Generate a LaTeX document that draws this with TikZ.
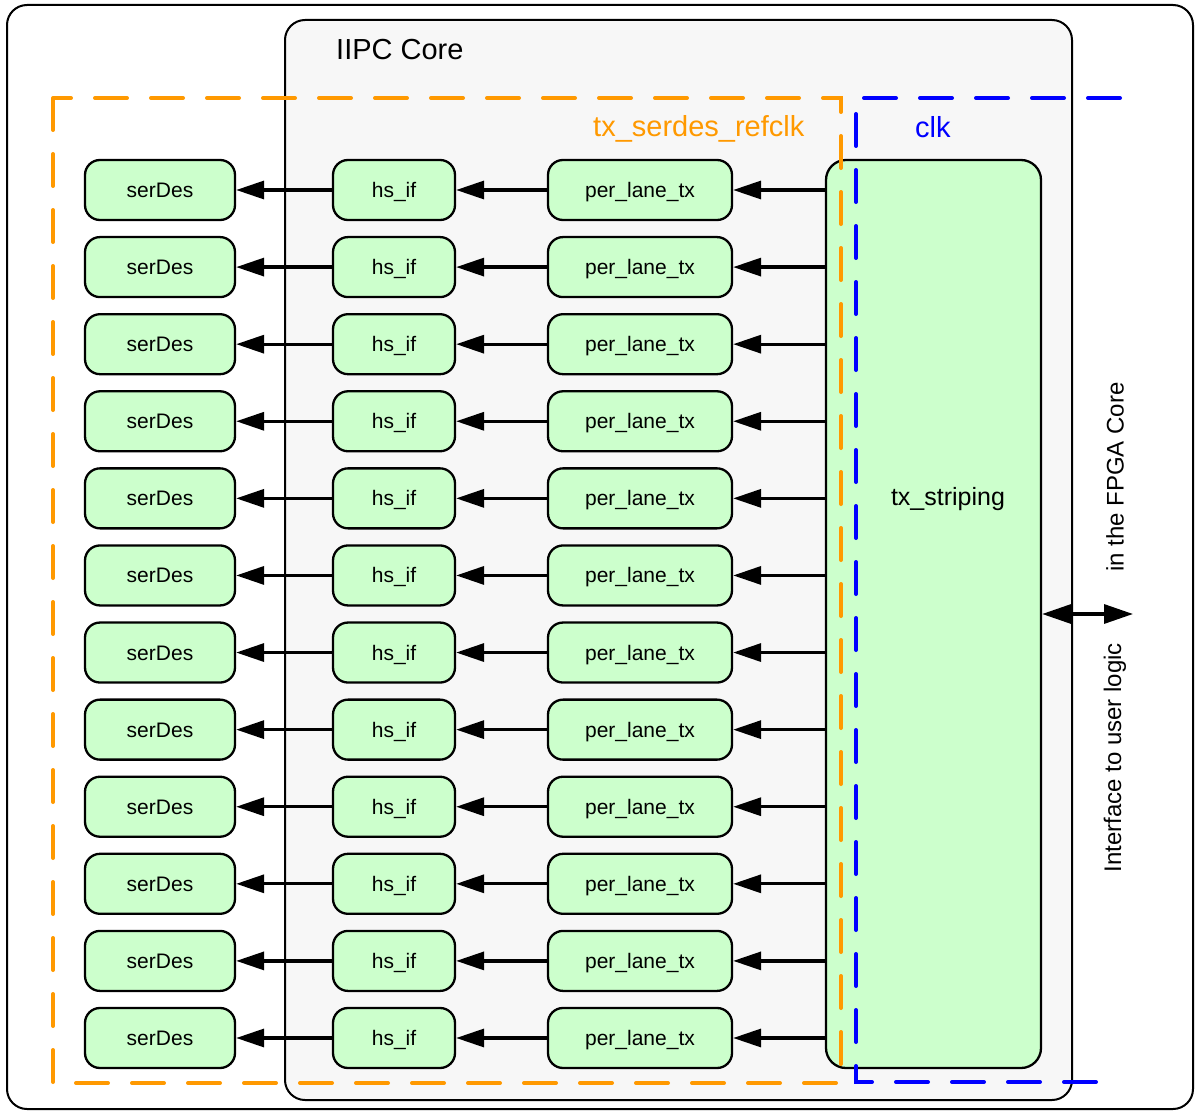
\documentclass[tikz,border=0pt]{standalone}
\usepackage{fontspec}
\setmainfont{Liberation Sans}
\usetikzlibrary{arrows.meta}
\definecolor{boxgreen}{HTML}{CCFFCC}
\definecolor{coregray}{HTML}{F7F7F7}
\definecolor{clkorange}{HTML}{FF9900}
\definecolor{clkblue}{HTML}{0000FF}
\begin{document}
\begin{tikzpicture}[x=1pt,y=-1pt,
  blk/.style={draw=black, line width=2.3pt, fill=boxgreen, rounded corners=15pt,
    minimum height=60pt, inner sep=0pt, text height=15pt, text depth=0pt,
    font=\fontsize{21}{25}\selectfont},
  flow/.style={line width=3.3pt, -{Triangle[length=28pt,width=18pt]}},
  biflow/.style={line width=3.3pt, {Triangle[length=29pt,width=19pt]}-{Triangle[length=29pt,width=19pt]}},
  dashorange/.style={draw=clkorange, line width=4pt, line cap=round, dash pattern=on 32pt off 24pt},
  dashblue/.style={draw=clkblue, line width=4pt, line cap=round, dash pattern=on 32pt off 24pt},
  biglabel/.style={inner sep=0pt, font=\fontsize{29}{34}\selectfont},
  sidelabel/.style={inner sep=0pt, rotate=90, font=\fontsize{24}{29}\selectfont}]
\useasboundingbox (0,0) rectangle (1197,1113);
% outer frame
\draw[line width=2pt, rounded corners=20pt] (7,5) rectangle (1193,1109);
% IIPC core
\draw[line width=2pt, fill=coregray, rounded corners=20pt] (285,20) rectangle (1072,1100);
\node[biglabel, anchor=base west] (corelbl) at (336,60) {IIPC Core};
% tx_striping
\node[blk, rounded corners=20pt, minimum width=215pt, minimum height=908pt,
  label={[name=tslbl, inner sep=0pt, text height=18pt, text depth=0pt,
    font=\fontsize{25}{30}\selectfont, xshift=14.5pt, yshift=118pt]center:tx\_striping}]
  (ts) at (933.5,614) {};
% lanes
\foreach \i in {1,...,12}{
  \pgfmathsetmacro\yy{190+(\i-1)*77.09}
  \node[blk, minimum width=150pt] (s\i) at (160,\yy) {serDes};
  \node[blk, minimum width=122pt] (h\i) at (394,\yy) {hs\_if};
  \node[blk, minimum width=184pt] (p\i) at (640,\yy) {per\_lane\_tx};
  \draw[flow] (ts.west |- p\i) -- (p\i.east);
  \draw[flow] (p\i.west) -- (h\i.east);
  \draw[flow] (h\i.west) -- (s\i.east);
}
% clock domains
\draw[dashorange] (53,98) rectangle (841,1083);
\draw[dashblue] (1120,98) -- (856,98) -- (856,1082) -- (1104,1082);
\node[biglabel, anchor=base west, text=clkorange] (reflbl) at (593,137) {tx\_serdes\_refclk};
\node[biglabel, anchor=base west, text=clkblue] (clklbl) at (915,138) {clk};
% user interface
\coordinate (ifc) at (1133,614);
\draw[biflow] (ts.east |- ifc) -- (ifc);
\node[sidelabel, anchor=east] (if1) at (1115,643) {Interface to user logic};
\node[sidelabel, anchor=west] (if2) at (1115,572) {in the FPGA Core};
\end{tikzpicture}
\end{document}
